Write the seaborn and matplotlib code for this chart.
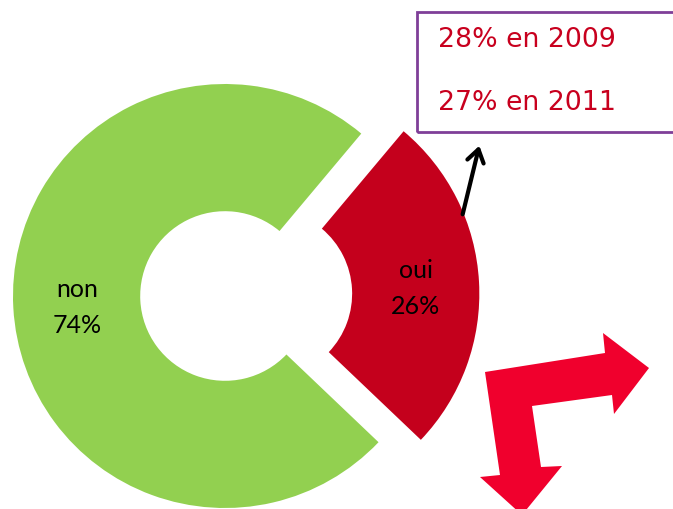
import numpy as np
import matplotlib
matplotlib.use("Agg")
import matplotlib.pyplot as plt
import seaborn as sns
from matplotlib.patches import Polygon, Rectangle, FancyArrowPatch

sns.set_theme(style="white")
plt.rcParams['font.family'] = ['Lato', 'DejaVu Sans']

# données
categories = ["non", "oui"]
shares = [74, 26]
colors = ["#92D050", "#C4001C"]
history = ["28% en 2009", "27% en 2011"]

W, H = 673, 509
fig = plt.figure(figsize=(W / 100, H / 100), dpi=100)
ax = fig.add_axes([0, 0, 1, 1])


def px(x, y):
    """pixels (origine en haut à gauche) -> fraction de la figure"""
    return x / W, 1 - y / H


# anneau : la part "oui" est à droite, légèrement tournée, et décalée
wedges, _ = ax.pie(shares, colors=colors, startangle=50, counterclock=True,
                   explode=[0, 0.2], radius=1,
                   wedgeprops=dict(width=0.6, edgecolor="none"))

for w, cat, val in zip(wedges, categories, shares):
    mid = np.deg2rad((w.theta1 + w.theta2) / 2)
    cx, cy = w.center
    r = 0.70
    ax.text(cx + r * np.cos(mid), cy + r * np.sin(mid) - 0.014, f"{cat}\n{val}%",
            ha="center", va="center", fontsize=18, color="black", linespacing=1.7)

# cadrage : centre de l'anneau à (225, 296) px, rayon 212 px
R, cxp, cyp = 212, 225, 296
ax.set_xlim(-cxp / R, (W - cxp) / R)
ax.set_ylim(-(H - cyp) / R, cyp / R)
ax.set_aspect("auto")
ax.axis("off")

# encadré de l'évolution
x0, y0 = px(417, 132)
x1, y1 = px(700, 12)
fig.patches.append(Rectangle((x0, y0), x1 - x0, y1 - y0, transform=fig.transFigure,
                             fill=False, edgecolor="#7F3F98", linewidth=2, clip_on=False))
for label, yy in zip(history, [40, 103]):
    fig.text(*px(438, yy), label, ha="left", va="center", fontsize=19.3,
             color="#C8001E", family=["DejaVu Sans"])

# flèche noire vers l'encadré
fig.patches.append(FancyArrowPatch(px(462, 217), px(480, 143), transform=fig.transFigure,
                                   arrowstyle="->,head_length=9,head_width=6",
                                   color="black", linewidth=3))

# flèche rouge coudée (décor)
shape = [(485, 372), (605, 353), (603, 333), (649, 368), (614, 414), (612, 395),
         (532, 406), (541, 467), (562, 466), (522, 515), (480, 477), (500, 475)]
fig.patches.append(Polygon([px(x, y) for x, y in shape], closed=True,
                           transform=fig.transFigure, facecolor="#F0002D",
                           edgecolor="none"))

fig.savefig("out.png", dpi=100)
